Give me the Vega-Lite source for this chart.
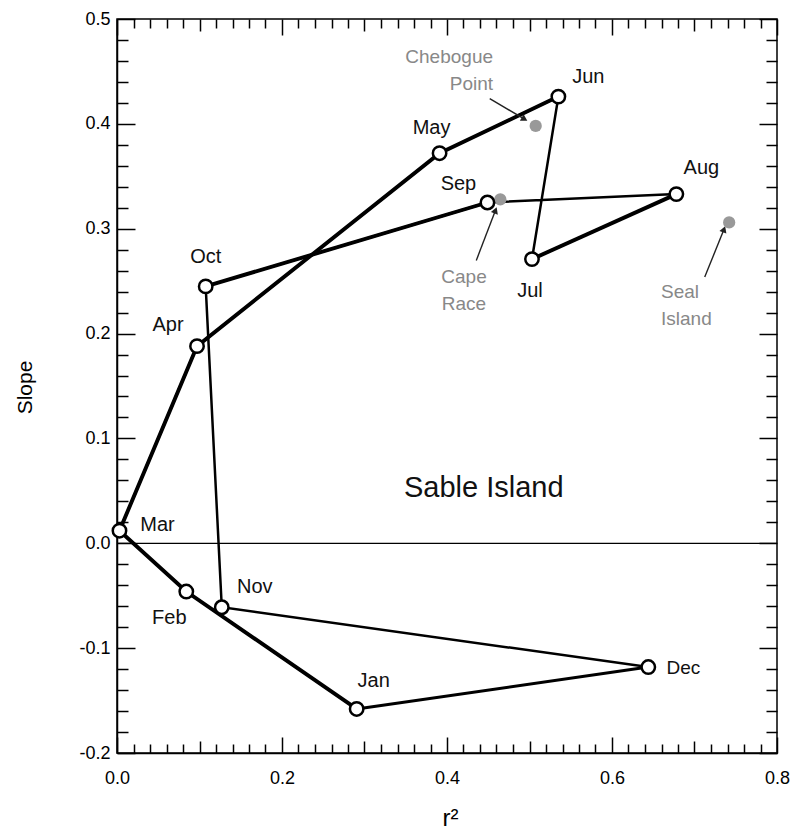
{
  "$schema": "https://vega.github.io/schema/vega-lite/v6.json",
  "width": 660,
  "height": 734,
  "autosize": "none",
  "padding": {"left": 117, "top": 19, "right": 21, "bottom": 79},
  "background": "white",
  "config": {
    "font": "Liberation Sans",
    "view": {"stroke": "black", "strokeWidth": 1.5},
    "axis": {
      "grid": false,
      "domainColor": "black",
      "domainWidth": 1.5,
      "tickColor": "black",
      "tickWidth": 1.5,
      "labelFont": "Liberation Sans",
      "labelFontSize": 18,
      "labelColor": "black",
      "titleFont": "Liberation Sans",
      "titleFontSize": 18,
      "titleFontWeight": "normal",
      "titleColor": "black"
    }
  },
  "datasets": {
    "months": [
      {"month": "Jan", "n": 1, "r2": 0.2905, "slope": -0.158},
      {"month": "Feb", "n": 2, "r2": 0.084, "slope": -0.046},
      {"month": "Mar", "n": 3, "r2": 0.003, "slope": 0.012},
      {"month": "Apr", "n": 4, "r2": 0.097, "slope": 0.188},
      {"month": "May", "n": 5, "r2": 0.391, "slope": 0.372},
      {"month": "Jun", "n": 6, "r2": 0.535, "slope": 0.426},
      {"month": "Jul", "n": 7, "r2": 0.503, "slope": 0.271},
      {"month": "Aug", "n": 8, "r2": 0.678, "slope": 0.333},
      {"month": "Sep", "n": 9, "r2": 0.449, "slope": 0.325},
      {"month": "Oct", "n": 10, "r2": 0.1075, "slope": 0.245},
      {"month": "Nov", "n": 11, "r2": 0.127, "slope": -0.061},
      {"month": "Dec", "n": 12, "r2": 0.644, "slope": -0.118}
    ],
    "stations": [
      {"station": "Chebogue Point", "r2": 0.5075, "slope": 0.398},
      {"station": "Cape Race", "r2": 0.4646, "slope": 0.328},
      {"station": "Seal Island", "r2": 0.742, "slope": 0.306}
    ],
    "arrows": [
      {"station": "Chebogue Point", "r2": 0.4518, "slope": 0.424, "r2_end": 0.494, "slope_end": 0.4045},
      {"station": "Cape Race", "r2": 0.4355, "slope": 0.2698, "r2_end": 0.4588, "slope_end": 0.3175},
      {"station": "Seal Island", "r2": 0.7124, "slope": 0.2539, "r2_end": 0.7358, "slope_end": 0.2995}
    ],
    "stationLabels": [
      {"station": "Chebogue Point", "text": "Chebogue\nPoint", "r2": 0.4558, "slope": 0.4633},
      {"station": "Cape Race", "text": "Cape\nRace", "r2": 0.4206, "slope": 0.2539},
      {"station": "Seal Island", "text": "Seal\nIsland", "r2": 0.6594, "slope": 0.2396}
    ],
    "title": [{"text": "Sable Island", "r2": 0.4446, "slope": 0.0524}],
    "zero": [{"slope": 0}]
  },
  "resolve": {"axis": {"x": "independent", "y": "independent"}},
  "layer": [
    {
      "data": {"name": "zero"},
      "mark": {"type": "rule", "color": "black", "strokeWidth": 1.3},
      "encoding": {
        "y": {"field": "slope", "type": "quantitative", "scale": {"domain": [-0.2, 0.5], "nice": false, "zero": false}, "axis": null}
      }
    },
    {
      "data": {"name": "months"},
      "mark": {"type": "line", "color": "black", "strokeWidth": 2.5},
      "encoding": {
        "x": {
          "field": "r2", "type": "quantitative",
          "scale": {"domain": [0, 0.8], "nice": false, "zero": false},
          "axis": {
            "orient": "bottom",
            "title": "r²",
            "titleX": 333,
            "titleY": 72,
            "titleAlign": "center",
            "titleBaseline": "alphabetic",
            "titleFontSize": 24,
            "values": [0,0.02,0.04,0.06,0.08,0.1,0.12,0.14,0.16,0.18,0.2,0.22,0.24,0.26,0.28,0.3,0.32,0.34,0.36,0.38,0.4,0.42,0.44,0.46,0.48,0.5,0.52,0.54,0.56,0.58,0.6,0.62,0.64,0.66,0.68,0.7,0.72,0.74,0.76,0.78,0.8],
            "labelExpr": "abs(datum.value*5 - round(datum.value*5)) < 0.001 ? format(datum.value, '.1f') : ''",
            "labelPadding": 32,
            "labelFlush": false,
            "labelOverlap": false,
            "tickSize": {"condition": [
              {"test": "abs(datum.value*5 - round(datum.value*5)) < 0.001", "value": -16},
              {"test": "abs(datum.value*10 - round(datum.value*10)) < 0.001", "value": -12}
            ], "value": -9}
          }
        },
        "y": {
          "field": "slope", "type": "quantitative",
          "scale": {"domain": [-0.2, 0.5], "nice": false, "zero": false},
          "axis": {
            "orient": "left",
            "title": "Slope",
            "titleX": -92,
            "titleY": 368,
            "titleAngle": -90,
            "titleAlign": "center",
            "titleBaseline": "middle",
            "titleFontSize": 21,
            "values": [-0.2,-0.18,-0.16,-0.14,-0.12,-0.1,-0.08,-0.06,-0.04,-0.02,0,0.02,0.04,0.06,0.08,0.1,0.12,0.14,0.16,0.18,0.2,0.22,0.24,0.26,0.28,0.3,0.32,0.34,0.36,0.38,0.4,0.42,0.44,0.46,0.48,0.5],
            "labelExpr": "abs(datum.value*10 - round(datum.value*10)) < 0.001 ? replace(format(datum.value, '.1f'), '−', '-') : ''",
            "labelPadding": 25,
            "labelFlush": false,
            "labelOverlap": false,
            "tickSize": {"condition": {"test": "abs(datum.value*10 - round(datum.value*10)) < 0.001", "value": -18}, "value": -11}
          }
        },
        "order": {"field": "n", "type": "quantitative"}
      }
    },
    {
      "data": {"name": "months"},
      "transform": [{"filter": "datum.n == 1 || datum.n == 12"}],
      "mark": {"type": "line", "color": "black", "strokeWidth": 3},
      "encoding": {
        "x": {"field": "r2", "type": "quantitative", "scale": {"domain": [0, 0.8], "nice": false, "zero": false}, "axis": null},
        "y": {"field": "slope", "type": "quantitative", "scale": {"domain": [-0.2, 0.5], "nice": false, "zero": false}, "axis": null},
        "order": {"field": "n", "type": "quantitative"}
      }
    },
    {
      "data": {"name": "months"},
      "transform": [{"filter": "datum.n <= 6"}],
      "mark": {"type": "line", "color": "black", "strokeWidth": 3.9},
      "encoding": {
        "x": {"field": "r2", "type": "quantitative", "scale": {"domain": [0, 0.8], "nice": false, "zero": false}, "axis": null},
        "y": {"field": "slope", "type": "quantitative", "scale": {"domain": [-0.2, 0.5], "nice": false, "zero": false}, "axis": null},
        "order": {"field": "n", "type": "quantitative"}
      }
    },
    {
      "data": {"name": "months"},
      "transform": [{"filter": "datum.n == 7 || datum.n == 8"}],
      "mark": {"type": "line", "color": "black", "strokeWidth": 3.9},
      "encoding": {
        "x": {"field": "r2", "type": "quantitative", "scale": {"domain": [0, 0.8], "nice": false, "zero": false}, "axis": null},
        "y": {"field": "slope", "type": "quantitative", "scale": {"domain": [-0.2, 0.5], "nice": false, "zero": false}, "axis": null},
        "order": {"field": "n", "type": "quantitative"}
      }
    },
    {
      "data": {"name": "months"},
      "transform": [{"filter": "datum.n == 9 || datum.n == 10"}],
      "mark": {"type": "line", "color": "black", "strokeWidth": 3.9},
      "encoding": {
        "x": {"field": "r2", "type": "quantitative", "scale": {"domain": [0, 0.8], "nice": false, "zero": false}, "axis": null},
        "y": {"field": "slope", "type": "quantitative", "scale": {"domain": [-0.2, 0.5], "nice": false, "zero": false}, "axis": null},
        "order": {"field": "n", "type": "quantitative"}
      }
    },
    {
      "data": {"name": "arrows"},
      "mark": {"type": "rule", "color": "#222", "strokeWidth": 1.4},
      "encoding": {
        "x": {"field": "r2", "type": "quantitative", "scale": {"domain": [0, 0.8], "nice": false, "zero": false}, "axis": null},
        "y": {"field": "slope", "type": "quantitative", "scale": {"domain": [-0.2, 0.5], "nice": false, "zero": false}, "axis": null},
        "x2": {"field": "r2_end"},
        "y2": {"field": "slope_end"}
      }
    },
    {
      "data": {"name": "arrows"},
      "transform": [{"filter": "datum.station == 'Chebogue Point'"}],
      "mark": {"type": "point", "shape": "triangle-up", "filled": true, "color": "#222", "size": 55, "angle": 120, "opacity": 1},
      "encoding": {
        "x": {"field": "r2_end", "type": "quantitative", "scale": {"domain": [0, 0.8], "nice": false, "zero": false}, "axis": null},
        "y": {"field": "slope_end", "type": "quantitative", "scale": {"domain": [-0.2, 0.5], "nice": false, "zero": false}, "axis": null}
      }
    },
    {
      "data": {"name": "arrows"},
      "transform": [{"filter": "datum.station != 'Chebogue Point'"}],
      "mark": {"type": "point", "shape": "triangle-up", "filled": true, "color": "#222", "size": 55, "angle": 21, "opacity": 1},
      "encoding": {
        "x": {"field": "r2_end", "type": "quantitative", "scale": {"domain": [0, 0.8], "nice": false, "zero": false}, "axis": null},
        "y": {"field": "slope_end", "type": "quantitative", "scale": {"domain": [-0.2, 0.5], "nice": false, "zero": false}, "axis": null}
      }
    },
    {
      "data": {"name": "stations"},
      "mark": {"type": "point", "shape": "circle", "filled": true, "color": "#999999", "size": 150, "opacity": 1},
      "encoding": {
        "x": {"field": "r2", "type": "quantitative", "scale": {"domain": [0, 0.8], "nice": false, "zero": false}, "axis": null},
        "y": {"field": "slope", "type": "quantitative", "scale": {"domain": [-0.2, 0.5], "nice": false, "zero": false}, "axis": null}
      }
    },
    {
      "data": {"name": "months"},
      "mark": {"type": "point", "shape": "circle", "filled": true, "fill": "white", "stroke": "black", "strokeWidth": 2.5, "size": 180, "opacity": 1},
      "encoding": {
        "x": {
          "field": "r2", "type": "quantitative", "scale": {"domain": [0, 0.8], "nice": false, "zero": false},
          "axis": {
            "orient": "top", "title": null, "labels": false, "domain": false,
            "values": [0,0.02,0.04,0.06,0.08,0.1,0.12,0.14,0.16,0.18,0.2,0.22,0.24,0.26,0.28,0.3,0.32,0.34,0.36,0.38,0.4,0.42,0.44,0.46,0.48,0.5,0.52,0.54,0.56,0.58,0.6,0.62,0.64,0.66,0.68,0.7,0.72,0.74,0.76,0.78,0.8],
            "tickSize": {"condition": [
              {"test": "abs(datum.value*5 - round(datum.value*5)) < 0.001", "value": -16},
              {"test": "abs(datum.value*10 - round(datum.value*10)) < 0.001", "value": -12}
            ], "value": -9}
          }
        },
        "y": {
          "field": "slope", "type": "quantitative", "scale": {"domain": [-0.2, 0.5], "nice": false, "zero": false},
          "axis": {
            "orient": "right", "title": null, "labels": false, "domain": false,
            "values": [-0.2,-0.18,-0.16,-0.14,-0.12,-0.1,-0.08,-0.06,-0.04,-0.02,0,0.02,0.04,0.06,0.08,0.1,0.12,0.14,0.16,0.18,0.2,0.22,0.24,0.26,0.28,0.3,0.32,0.34,0.36,0.38,0.4,0.42,0.44,0.46,0.48,0.5],
            "tickSize": {"condition": {"test": "abs(datum.value*10 - round(datum.value*10)) < 0.001", "value": -18}, "value": -11}
          }
        }
      }
    },
    {"data": {"name": "months"}, "transform": [{"filter": "datum.month == 'Jan'"}], "mark": {"type": "text", "fontSize": 20, "color": "#111", "dx": 17, "dy": -28, "baseline": "middle", "align": "center"},
     "encoding": {"x": {"field": "r2", "type": "quantitative", "axis": null}, "y": {"field": "slope", "type": "quantitative", "axis": null}, "text": {"field": "month"}}},
    {"data": {"name": "months"}, "transform": [{"filter": "datum.month == 'Feb'"}], "mark": {"type": "text", "fontSize": 20, "color": "#111", "dx": -17, "dy": 26, "baseline": "middle", "align": "center"},
     "encoding": {"x": {"field": "r2", "type": "quantitative", "axis": null}, "y": {"field": "slope", "type": "quantitative", "axis": null}, "text": {"field": "month"}}},
    {"data": {"name": "months"}, "transform": [{"filter": "datum.month == 'Mar'"}], "mark": {"type": "text", "fontSize": 20, "color": "#111", "dx": 38, "dy": -6, "baseline": "middle", "align": "center"},
     "encoding": {"x": {"field": "r2", "type": "quantitative", "axis": null}, "y": {"field": "slope", "type": "quantitative", "axis": null}, "text": {"field": "month"}}},
    {"data": {"name": "months"}, "transform": [{"filter": "datum.month == 'Apr'"}], "mark": {"type": "text", "fontSize": 20, "color": "#111", "dx": -29, "dy": -21, "baseline": "middle", "align": "center"},
     "encoding": {"x": {"field": "r2", "type": "quantitative", "axis": null}, "y": {"field": "slope", "type": "quantitative", "axis": null}, "text": {"field": "month"}}},
    {"data": {"name": "months"}, "transform": [{"filter": "datum.month == 'May'"}], "mark": {"type": "text", "fontSize": 20, "color": "#111", "dx": -8, "dy": -25, "baseline": "middle", "align": "center"},
     "encoding": {"x": {"field": "r2", "type": "quantitative", "axis": null}, "y": {"field": "slope", "type": "quantitative", "axis": null}, "text": {"field": "month"}}},
    {"data": {"name": "months"}, "transform": [{"filter": "datum.month == 'Jun'"}], "mark": {"type": "text", "fontSize": 20, "color": "#111", "dx": 30, "dy": -20, "baseline": "middle", "align": "center"},
     "encoding": {"x": {"field": "r2", "type": "quantitative", "axis": null}, "y": {"field": "slope", "type": "quantitative", "axis": null}, "text": {"field": "month"}}},
    {"data": {"name": "months"}, "transform": [{"filter": "datum.month == 'Jul'"}], "mark": {"type": "text", "fontSize": 20, "color": "#111", "dx": -2, "dy": 32, "baseline": "middle", "align": "center"},
     "encoding": {"x": {"field": "r2", "type": "quantitative", "axis": null}, "y": {"field": "slope", "type": "quantitative", "axis": null}, "text": {"field": "month"}}},
    {"data": {"name": "months"}, "transform": [{"filter": "datum.month == 'Aug'"}], "mark": {"type": "text", "fontSize": 20, "color": "#111", "dx": 25, "dy": -26, "baseline": "middle", "align": "center"},
     "encoding": {"x": {"field": "r2", "type": "quantitative", "axis": null}, "y": {"field": "slope", "type": "quantitative", "axis": null}, "text": {"field": "month"}}},
    {"data": {"name": "months"}, "transform": [{"filter": "datum.month == 'Sep'"}], "mark": {"type": "text", "fontSize": 20, "color": "#111", "dx": -29, "dy": -19, "baseline": "middle", "align": "center"},
     "encoding": {"x": {"field": "r2", "type": "quantitative", "axis": null}, "y": {"field": "slope", "type": "quantitative", "axis": null}, "text": {"field": "month"}}},
    {"data": {"name": "months"}, "transform": [{"filter": "datum.month == 'Oct'"}], "mark": {"type": "text", "fontSize": 20, "color": "#111", "dx": 0, "dy": -29, "baseline": "middle", "align": "center"},
     "encoding": {"x": {"field": "r2", "type": "quantitative", "axis": null}, "y": {"field": "slope", "type": "quantitative", "axis": null}, "text": {"field": "month"}}},
    {"data": {"name": "months"}, "transform": [{"filter": "datum.month == 'Nov'"}], "mark": {"type": "text", "fontSize": 20, "color": "#111", "dx": 33, "dy": -20, "baseline": "middle", "align": "center"},
     "encoding": {"x": {"field": "r2", "type": "quantitative", "axis": null}, "y": {"field": "slope", "type": "quantitative", "axis": null}, "text": {"field": "month"}}},
    {"data": {"name": "months"}, "transform": [{"filter": "datum.month == 'Dec'"}], "mark": {"type": "text", "fontSize": 19, "color": "#111", "dx": 35, "dy": 1, "baseline": "middle", "align": "center"},
     "encoding": {"x": {"field": "r2", "type": "quantitative", "axis": null}, "y": {"field": "slope", "type": "quantitative", "axis": null}, "text": {"field": "month"}}},
    {"data": {"name": "stationLabels"}, "transform": [{"filter": "datum.station == 'Chebogue Point'"}], "mark": {"type": "text", "fontSize": 19, "color": "#888", "align": "right", "baseline": "middle", "lineBreak": "\n", "lineHeight": 27},
     "encoding": {"x": {"field": "r2", "type": "quantitative", "axis": null}, "y": {"field": "slope", "type": "quantitative", "axis": null}, "text": {"field": "text"}}},
    {"data": {"name": "stationLabels"}, "transform": [{"filter": "datum.station == 'Cape Race'"}], "mark": {"type": "text", "fontSize": 19, "color": "#888", "align": "center", "baseline": "middle", "lineBreak": "\n", "lineHeight": 27},
     "encoding": {"x": {"field": "r2", "type": "quantitative", "axis": null}, "y": {"field": "slope", "type": "quantitative", "axis": null}, "text": {"field": "text"}}},
    {"data": {"name": "stationLabels"}, "transform": [{"filter": "datum.station == 'Seal Island'"}], "mark": {"type": "text", "fontSize": 19, "color": "#888", "align": "left", "baseline": "middle", "lineBreak": "\n", "lineHeight": 27},
     "encoding": {"x": {"field": "r2", "type": "quantitative", "axis": null}, "y": {"field": "slope", "type": "quantitative", "axis": null}, "text": {"field": "text"}}},
    {"data": {"name": "title"}, "mark": {"type": "text", "fontSize": 29, "color": "#111", "align": "center", "baseline": "middle"},
     "encoding": {"x": {"field": "r2", "type": "quantitative", "axis": null}, "y": {"field": "slope", "type": "quantitative", "axis": null}, "text": {"field": "text"}}}
  ]
}
